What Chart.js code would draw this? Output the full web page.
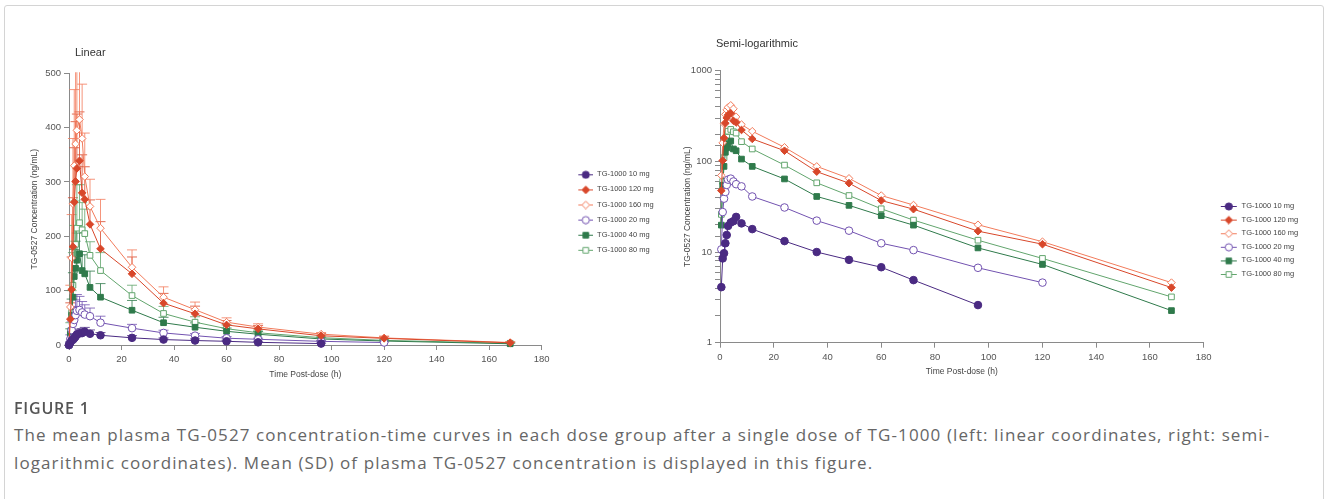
<!DOCTYPE html>
<html>
<head>
<meta charset="utf-8">
<script src="https://cdn.jsdelivr.net/npm/chart.js@4.4.1/dist/chart.umd.min.js"></script>
<style>
  html, body { margin: 0; padding: 0; background: #fff; }
  body { width: 1328px; height: 499px; position: relative; overflow: hidden; font-family: "Liberation Sans", Arial, sans-serif; }
  .frame { position: absolute; left: 4px; top: 5px; width: 1318px; height: 520px; border: 1px solid #d4d4d4; border-radius: 3px; }
  .box { position: absolute; top: 0; height: 400px; }
  .ptitle { position: absolute; font-size: 11px; color: #333; line-height: 13px; }
  .fig { position: absolute; left: 14px; top: 398px; font-family: "Open Sans", sans-serif; font-weight: 600; font-size: 16px; letter-spacing: 0.8px; line-height: 20px; color: #555; }
  .cap { position: absolute; left: 14px; top: 421px; font-family: "Open Sans", sans-serif; font-size: 17px; letter-spacing: 1.1px; line-height: 28px; color: #666; white-space: nowrap; }
</style>
</head>
<body>
<div class="frame"></div>
<div class="box" style="left:0;width:680px"><canvas id="linCanvas"></canvas></div>
<div class="box" style="left:660px;width:668px"><canvas id="logCanvas"></canvas></div>
<div class="ptitle" style="left:75px;top:46px">Linear</div>
<div class="ptitle" style="left:716px;top:37px">Semi-logarithmic</div>
<div class="fig">FIGURE 1</div>
<div class="cap">The mean plasma TG-0527 concentration-time curves in each dose group after a single dose of TG-1000 (left: linear coordinates, right: semi-<br>logarithmic coordinates). Mean (SD) of plasma TG-0527 concentration is displayed in this figure.</div>

<script>
// sampling times (h)
var times = [0, 0.5, 1, 1.5, 2, 2.5, 3, 4, 5, 6, 8, 12, 24, 36, 48, 60, 72, 96, 120, 168];

var doseNames = ["TG-1000 10 mg", "TG-1000 120 mg", "TG-1000 160 mg", "TG-1000 20 mg", "TG-1000 40 mg", "TG-1000 80 mg"];

// mean concentration (ng/mL)
var mean10 = [0, 4.1, 8.5, 9.7, 12.5, 15.4, 19.4, 21.2, 21.9, 24.4, 20.7, 17.9, 13.2, 10.0, 8.2, 6.8, 4.9, 2.6, null, null];
var mean120 = [0, 47.6, 102, 181, 263, 301, 325, 339, 280, 268, 222, 177, 131, 77, 57.5, 37, 29.7, 17, 12.2, 4.05];
var mean160 = [0, 70, 160, 260, 330, 370, 395, 415, 380, 310, 255, 215, 143, 88, 65, 42, 33, 20, 13, 4.6];
var mean20 = [0, 10.7, 27.6, 38.8, 46, 55, 62.9, 64.5, 60, 56, 53, 41, 31, 22.2, 17.2, 12.5, 10.5, 6.7, 4.6, null];
var mean40 = [0, 19.8, 54.5, 88, 126, 141, 156, 168, 137, 131, 106, 88, 64, 41, 32.7, 25.2, 19.8, 11.1, 7.3, 2.26];
var mean80 = [0, 26, 60, 110, 150, 185, 215, 225, 212, 205, 165, 137, 91, 58, 42, 30, 22.5, 13.5, 8.5, 3.2];

// SD (ng/mL), linear plot only
var sd10 = [0, 2, 4, 5, 6, 7, 8, 8, 8, 8, 7, 5, 4, 3, 3, 2, 2, 1, 0, 0];
var sd120 = [0, 30, 60, 90, 100, 110, 100, 90, 70, 60, 45, 50, 31, 18, 14, 8, 6, 4, 3, 1.5];
var sd160 = [0, 40, 80, 120, 140, 150, 130, 120, 100, 80, 50, 53, 32, 19, 14, 8, 6, 3, 3.5, 1.5];
var sd20 = [0, 8, 15, 22, 25, 28, 30, 25, 20, 18, 15, 12, 7, 5, 4, 3, 2, 1.5, 1, 0];
var sd40 = [0, 10, 30, 45, 50, 50, 50, 45, 35, 35, 30, 25, 18, 10, 8, 6, 5, 3, 2, 1];
var sd80 = [0, 15, 40, 60, 70, 80, 80, 70, 50, 45, 25, 33, 19, 13, 10, 7, 5, 3, 2, 1];

var linTicks = [0, 100, 200, 300, 400, 500];
var logTicks = [1, 10, 100, 1000];

var allMeans = [mean10, mean120, mean160, mean20, mean40, mean80];
var allSd = [sd10, sd120, sd160, sd20, sd40, sd80];
var colors = ["#4a2a82", "#d8472a", "#f27b5b", "#7252b0", "#2f7a4b", "#62a56d"];
var shapes = ["circle", "rectRot", "rectRot", "circle", "rect", "rect"];
var filled = [true, true, false, false, true, false];

Chart.defaults.font.family = '"Liberation Sans", Arial, sans-serif';
Chart.defaults.color = '#555';

function markerRadius(shape) {
    if (shape == "rect") return 4;
    return 3.8;
}

// small legend glyph: line with the marker on it
function legendIcon(i, w, x0, x1) {
    var c = document.createElement('canvas');
    c.width = w;
    c.height = 10;
    var g = c.getContext('2d');
    g.strokeStyle = colors[i];
    g.lineWidth = 1;
    g.beginPath();
    g.moveTo(x0, 5.5);
    g.lineTo(x1, 5.5);
    g.stroke();
    var cx = (x0 + x1) / 2;
    g.fillStyle = filled[i] ? colors[i] : '#fff';
    g.beginPath();
    if (shapes[i] == "circle") {
        g.arc(cx, 5.5, 3.6, 0, Math.PI * 2);
    } else if (shapes[i] == "rect") {
        g.rect(cx - 2.8, 2.7, 5.6, 5.6);
    } else {
        g.moveTo(cx, 1.7);
        g.lineTo(cx + 3.8, 5.5);
        g.lineTo(cx, 9.3);
        g.lineTo(cx - 3.8, 5.5);
        g.closePath();
    }
    g.fill();
    g.stroke();
    return c;
}

function buildDatasets(isLog) {
    return doseNames.map(function (name, i) {
        return {
            label: name,
            data: times.map(function (t, j) {
                var v = allMeans[i][j];
                if (v === null || (isLog && v <= 0)) v = null;
                return { x: t, y: v };
            }),
            borderColor: colors[i],
            backgroundColor: filled[i] ? colors[i] : '#fff',
            pointBackgroundColor: filled[i] ? colors[i] : '#fff',
            pointBorderColor: colors[i],
            pointStyle: shapes[i],
            pointRadius: markerRadius(shapes[i]),
            pointHoverRadius: markerRadius(shapes[i]),
            pointBorderWidth: 1,
            borderWidth: 1,
            tension: 0,
            clip: false
        };
    });
}

var errorBars = {
    id: 'errorBars',
    beforeDatasetsDraw: function (chart) {
        var ctx = chart.ctx, xs = chart.scales.x, ys = chart.scales.y, a = chart.chartArea;
        ctx.save();
        ctx.beginPath();
        ctx.rect(a.left - 6, a.top - 1, a.right - a.left + 12, a.bottom - a.top + 1);
        ctx.clip();
        ctx.lineWidth = 1;
        chart.data.datasets.forEach(function (ds, i) {
            ctx.strokeStyle = colors[i];
            ctx.globalAlpha = 0.8;
            ds.data.forEach(function (p, j) {
                var s = allSd[i][j];
                if (p.y === null || !s) return;
                var x = xs.getPixelForValue(p.x);
                var y0 = ys.getPixelForValue(p.y);
                var y1 = ys.getPixelForValue(p.y + s);
                ctx.beginPath();
                ctx.moveTo(x, y0);
                ctx.lineTo(x, y1);
                ctx.moveTo(x - 5, y1);
                ctx.lineTo(x + 5, y1);
                ctx.stroke();
            });
        });
        ctx.restore();
    }
};

function axisX(h) {
    return {
        type: 'linear',
        min: 0,
        max: 180,
        ticks: { stepSize: 20, color: '#555', font: { size: 9.5 }, padding: 4, maxRotation: 0 },
        grid: { drawOnChartArea: false, drawTicks: true, tickLength: 5, color: '#8a8a8a' },
        border: { color: '#8a8a8a' },
        title: { display: true, text: 'Time Post-dose (h)', color: '#444', font: { size: 8.5 }, padding: { top: 0, bottom: 2 } },
        afterFit: function (s) { s.height = h; }
    };
}

function legendOpts(iconW, x0, x1, pad, titlePad) {
    return {
        position: 'right',
        align: 'start',
        title: { display: true, text: ' ', font: { size: 2 }, padding: { top: titlePad, bottom: 0 } },
        labels: {
            usePointStyle: true,
            pointStyleWidth: iconW,
            padding: pad,
            color: '#444',
            font: { size: 7.5 },
            generateLabels: function (chart) {
                var items = Chart.defaults.plugins.legend.labels.generateLabels(chart);
                items.forEach(function (it, i) {
                    it.pointStyle = legendIcon(i, iconW, x0, x1);
                    it.fontColor = '#444';
                });
                return items;
            }
        },
        onClick: function () {}
    };
}

var linChart = new Chart(document.getElementById('linCanvas').getContext('2d'), {
    type: 'line',
    data: { datasets: buildDatasets(false) },
    plugins: [errorBars],
    options: {
        responsive: true,
        maintainAspectRatio: false,
        animation: false,
        layout: { padding: { top: 73.3, left: 25, bottom: 17.9, right: 16.25 } },
        plugins: {
            legend: legendOpts(44, 29, 44, 7.6, 87.25),
            tooltip: { enabled: false }
        },
        scales: {
            x: axisX(37.1),
            y: {
                type: 'linear',
                min: 0,
                max: 500,
                afterBuildTicks: function (s) { s.ticks = linTicks.map(function (v) { return { value: v }; }); },
                ticks: { color: '#555', font: { size: 9.5 }, padding: 3 },
                grid: { drawOnChartArea: false, drawTicks: true, tickLength: 5, color: '#8a8a8a' },
                border: { color: '#8a8a8a' },
                title: { display: true, text: 'TG-0527 Concentration (ng/mL)', color: '#444', font: { size: 8.5 }, padding: { top: 4.9, bottom: 0 } },
                afterFit: function (s) { s.width = 44; }
            }
        }
    }
});

var logChart = new Chart(document.getElementById('logCanvas').getContext('2d'), {
    type: 'line',
    data: { datasets: buildDatasets(true) },
    options: {
        responsive: true,
        maintainAspectRatio: false,
        animation: false,
        layout: { padding: { top: 70.7, left: 20, bottom: 21.2, right: 19.75 } },
        plugins: {
            legend: legendOpts(28, 11, 27, 6.1, 123.05),
            tooltip: { enabled: false }
        },
        scales: {
            x: axisX(36.1),
            y: {
                type: 'logarithmic',
                min: 1,
                max: 1000,
                ticks: {
                    color: '#555',
                    font: { size: 9.5 },
                    padding: 3,
                    autoSkip: false,
                    callback: function (v) { return logTicks.indexOf(v) >= 0 ? String(v) : ''; }
                },
                grid: { drawOnChartArea: false, drawTicks: true, tickLength: 5, color: '#8a8a8a' },
                border: { color: '#8a8a8a' },
                title: { display: true, text: 'TG-0527 Concentration (ng/mL)', color: '#444', font: { size: 8.5 }, padding: { top: 2.9, bottom: 0 } },
                afterFit: function (s) { s.width = 40; }
            }
        }
    }
});
</script>
</body>
</html>
